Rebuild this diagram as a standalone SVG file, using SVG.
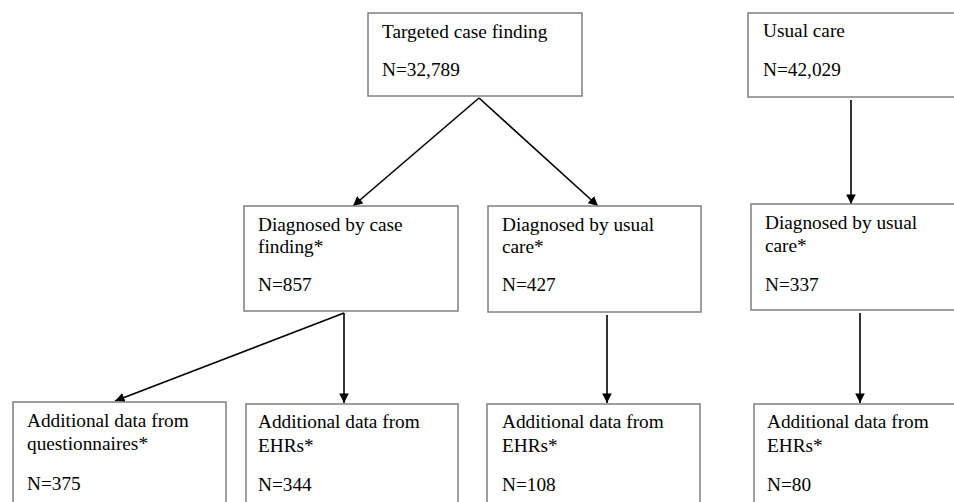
<svg xmlns="http://www.w3.org/2000/svg" width="954" height="502" viewBox="0 0 954 502">
<defs>
<style>
.box{fill:#fff;stroke:#7f7f7f;stroke-width:1.5}
.t{font-family:"Liberation Serif","Times New Roman",serif;font-size:19.3px;fill:#000}
.c{stroke:#000;stroke-width:1.6;fill:none;marker-end:url(#ah)}
</style>
<marker id="ah" viewBox="0 0 10 10" refX="10" refY="5" markerWidth="6" markerHeight="6" markerUnits="strokeWidth" orient="auto">
<path d="M0,0 L10,5 L0,10 z" fill="#000"/>
</marker>
</defs>
<rect width="954" height="502" fill="#fff"/>
<g id="connectors">
<path class="c" d="M479,98 L353,206"/>
<path class="c" d="M479,98 L598,206"/>
<path class="c" d="M851,100 L851,204"/>
<path class="c" d="M344,313 L115,401"/>
<path class="c" d="M344,313 L344,403"/>
<path class="c" d="M607,315 L607,403"/>
<path class="c" d="M860,313 L860,403"/>
</g>
<g id="n_targeted">
<rect class="box" x="368" y="13" width="214" height="83"/>
<text class="t" x="382" y="38">Targeted case finding</text>
<text class="t" x="382" y="76">N=32,789</text>
</g>
<g id="n_usual">
<rect class="box" x="748" y="13" width="230" height="84"/>
<text class="t" x="763" y="37">Usual care</text>
<text class="t" x="763" y="76">N=42,029</text>
</g>
<g id="n_diag_cf">
<rect class="box" x="244" y="206" width="214" height="105"/>
<text class="t" x="258" y="231">Diagnosed by case</text>
<text class="t" x="258" y="253">finding*</text>
<text class="t" x="258" y="291">N=857</text>
</g>
<g id="n_diag_uc1">
<rect class="box" x="488" y="206" width="213" height="106"/>
<text class="t" x="502" y="231">Diagnosed by usual</text>
<text class="t" x="502" y="253">care*</text>
<text class="t" x="502" y="291">N=427</text>
</g>
<g id="n_diag_uc2">
<rect class="box" x="751" y="204" width="230" height="106"/>
<text class="t" x="765" y="229">Diagnosed by usual</text>
<text class="t" x="765" y="252">care*</text>
<text class="t" x="765" y="291">N=337</text>
</g>
<g id="n_quest">
<rect class="box" x="13" y="402" width="213" height="120"/>
<text class="t" x="27" y="427">Additional data from</text>
<text class="t" x="27" y="450">questionnaires*</text>
<text class="t" x="27" y="490">N=375</text>
</g>
<g id="n_ehr1">
<rect class="box" x="246" y="404" width="212" height="120"/>
<text class="t" x="258" y="428">Additional data from</text>
<text class="t" x="258" y="452">EHRs*</text>
<text class="t" x="258" y="491">N=344</text>
</g>
<g id="n_ehr2">
<rect class="box" x="487" y="404" width="213" height="120"/>
<text class="t" x="502" y="428">Additional data from</text>
<text class="t" x="502" y="452">EHRs*</text>
<text class="t" x="502" y="491">N=108</text>
</g>
<g id="n_ehr3">
<rect class="box" x="754" y="404" width="230" height="120"/>
<text class="t" x="767" y="428">Additional data from</text>
<text class="t" x="767" y="452">EHRs*</text>
<text class="t" x="767" y="491">N=80</text>
</g>
</svg>
